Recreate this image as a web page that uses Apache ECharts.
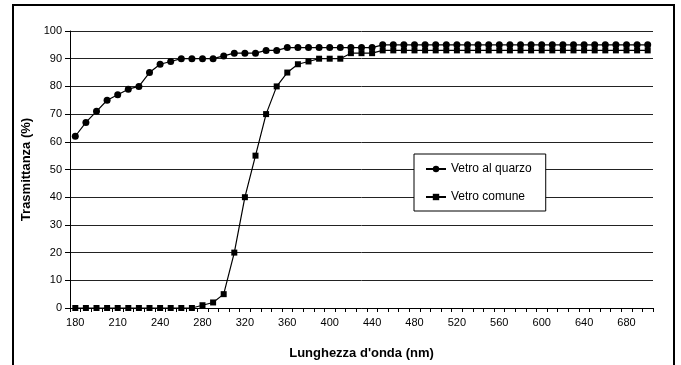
<!DOCTYPE html>
<html>
    <head>
        <meta charset="utf-8">
        <title>Trasmittanza</title>
        <script src="https://cdn.jsdelivr.net/npm/echarts@6/dist/echarts.min.js"></script>
        <style>body{margin:0;background:#fff;}</style>
    </head>
    <body>
        <div id="chart" style="width:681px;height:365px;"></div>
        <script type="text/javascript">
            // wavelengths (nm) - category axis, labels shown every 4th
            var wavelengths=[180,185,190,200,210,220,225,230,240,250,260,270,
                280,290,300,310,320,330,340,350,360,370,380,390,400,410,420,430,440,450,
                460,470,480,490,500,510,520,530,540,550,560,570,580,590,600,610,620,630,
                640,650,660,670,680,690,700];
            var quarzo=[62,67,71,75,77,79,80,85,88,89,90,90,
                90,90,91,92,92,92,93,93,94,94,94,94,94,94,94,94,94,95,
                95,95,95,95,95,95,95,95,95,95,95,95,95,95,95,95,95,95,
                95,95,95,95,95,95,95];
            var comune=[0,0,0,0,0,0,0,0,0,0,0,0,
                1,2,5,20,40,55,70,80,85,88,89,90,90,90,92,92,92,93,
                93,93,93,93,93,93,93,93,93,93,93,93,93,93,93,93,93,93,
                93,93,93,93,93,93,93];
            var yTicks={min:0,max:100,step:10};

            var myChart=echarts.init(document.getElementById('chart'));
            var font='Liberation Sans, Arial, sans-serif';

            option={
                animation:false,
                backgroundColor:'#fff',
                textStyle:{fontFamily:font,color:'#000'},
                graphic:[{type:'rect',shape:{x:13,y:5,width:661,height:400},
                    style:{fill:'none',stroke:'#000',lineWidth:2},silent:true}],
                grid:{left:70,right:28,top:31,bottom:52},
                legend:{
                    orient:'vertical',left:414,top:154,
                    padding:[9,14,8,11],itemGap:16,itemWidth:20,itemHeight:8,
                    backgroundColor:'#fff',borderColor:'#000',borderWidth:1,
                    textStyle:{fontSize:12,fontFamily:font,color:'#000'},
                    data:['Vetro al quarzo','Vetro comune']
                },
                xAxis:{
                    type:'category',data:wavelengths,boundaryGap:true,
                    name:"Lunghezza d'onda (nm)",nameLocation:'middle',nameGap:39,
                    nameTextStyle:{fontSize:13,fontWeight:'bold',fontFamily:font,color:'#000'},
                    axisLine:{lineStyle:{color:'#000',width:1}},
                    axisTick:{show:true,interval:0,length:4,lineStyle:{color:'#000'}},
                    axisLabel:{interval:3,fontSize:11,margin:9,color:'#000',fontFamily:font},
                    splitLine:{show:false}
                },
                yAxis:{
                    type:'value',min:yTicks.min,max:yTicks.max,interval:yTicks.step,
                    name:'Trasmittanza (%)',nameLocation:'middle',nameGap:35,
                    nameTextStyle:{fontSize:13,fontWeight:'bold',fontFamily:font,color:'#000'},
                    axisLine:{show:true,lineStyle:{color:'#000',width:1}},
                    axisTick:{show:true,length:5,lineStyle:{color:'#000'}},
                    axisLabel:{fontSize:11,margin:8,color:'#000',fontFamily:font},
                    splitLine:{show:true,lineStyle:{color:'#222',width:1}}
                },
                series:[
                    {name:'Vetro al quarzo',type:'line',data:quarzo,
                        symbol:'circle',symbolSize:7,showAllSymbol:true,
                        lineStyle:{color:'#000',width:1.2},itemStyle:{color:'#000'}},
                    {name:'Vetro comune',type:'line',data:comune,
                        symbol:'rect',symbolSize:6,showAllSymbol:true,
                        lineStyle:{color:'#000',width:1.2},itemStyle:{color:'#000'}}
                ]
            };
            myChart.setOption(option);
        </script>
    </body>
</html>
